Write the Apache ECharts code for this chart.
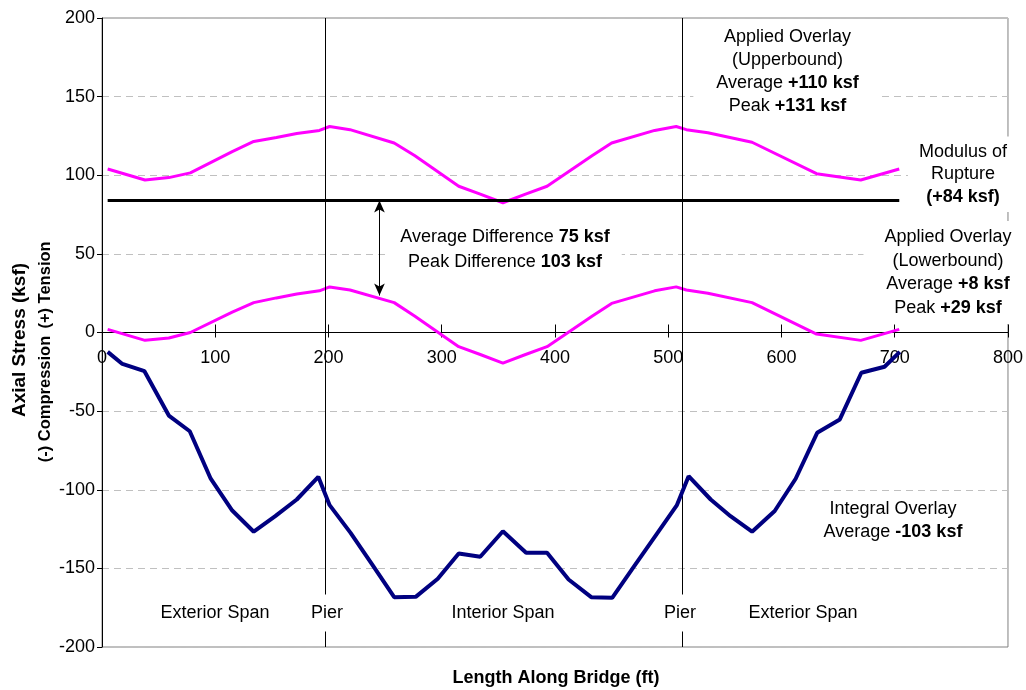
<!DOCTYPE html>
<html>
<head>
<meta charset="utf-8">
<script src="https://cdn.jsdelivr.net/npm/echarts@6/dist/echarts.min.js"></script>
<style>
  html, body { margin: 0; padding: 0; background: #ffffff; }
  #chart { width: 1026px; height: 690px; }
</style>
</head>
<body>
<div id="chart"></div>
<script>
// Stations (ft) along the bridge for the applied overlay envelope
const appliedFt = [5, 38, 59, 78, 115, 134, 154, 172, 192, 201, 219, 258, 276, 315, 334, 354,
                   374, 393, 433, 450, 488, 507, 516, 535, 574, 631, 670, 704];
// Applied overlay, upper bound (ksf)
const appliedUpperKsf = [104, 97, 98.5, 101.5, 115, 121.5, 124, 126.5, 128.5, 131, 129, 120.5, 112.5, 93, 88, 82.5,
                         88, 93, 112.5, 120.5, 128.5, 131, 129, 127, 121, 101, 97, 104];
// Applied overlay, lower bound (ksf)
const appliedLowerKsf = [2, -5, -3.5, 0, 13, 19, 22, 24.5, 26.5, 29, 27, 19, 10.5, -9, -14, -19.5,
                         -14, -9, 10.5, 18.5, 26.5, 29, 27, 25, 19, -1, -5, 2];

// Integral overlay stations (ft) and stress (ksf)
const integralFt = [5, 18, 37.5, 59, 77.5, 96, 115, 134, 153, 172, 191, 201, 219.5, 238.5, 258, 277, 296.5, 315,
                    334, 354, 374.5, 393, 412, 432, 450.5, 469.5, 489, 507.5, 518, 537.5, 555, 574, 594, 612.5,
                    631.5, 651.5, 670.5, 691, 704.5];
const integralKsf = [-12.3, -20, -24.6, -52.8, -62.8, -93, -113.2, -126.7, -116.8, -106.2, -91.8, -109.8, -127.4,
                     -147.5, -168.3, -168.1, -156.6, -140.5, -142.6, -126.4, -140.1, -140.1, -157.1, -168.3,
                     -168.7, -149, -129, -110, -91.4, -106.2, -116.8, -126.7, -113.5, -93, -63.8, -55.3, -25.6,
                     -21.8, -12.3];

// Modulus of rupture and the extent it is drawn over
const ruptureKsf = [84];
const ruptureExtentFt = [5, 704];

// Pier stations (ft)
const pierFt = [197, 512];

// Difference arrow: station and its two ends (ksf)
const diffArrowFt = [245];
const diffArrowKsf = [84, 23.5];

// Summary values quoted in the notes (ksf)
const upperSummary = { average: 110, peak: 131 };
const lowerSummary = { average: 8, peak: 29 };
const differenceSummary = { average: 75, peak: 103 };
const integralSummary = { average: -103 };

// Axis ranges and ticks
const xRange = [0, 800], xStep = 100;
const yRange = [-200, 200], yStep = 50;

const FONT = "'Liberation Sans', Arial, sans-serif";
const SIZE = 18;

// Plot box in pixels
const GRID = { left: 102, right: 18, top: 18, bottom: 43 };
const plotHeight = 690 - GRID.top - GRID.bottom;
// The length axis runs along the zero-stress line
const zeroFromBottom = plotHeight * (0 - yRange[0]) / (yRange[1] - yRange[0]);
const zeroFromTop = plotHeight - zeroFromBottom;

function pairs(xs, ys) { return xs.map((x, i) => [x, ys[i]]); }
function signed(v) { return (v > 0 ? '+' : '') + v; }

const chart = echarts.init(document.getElementById('chart'), null, { renderer: 'canvas' });

function note(x, y, lines, pad, lh) {
  const rich = {
    n: { fontFamily: FONT, fontSize: SIZE, lineHeight: lh || 23, fill: '#000' },
    b: { fontFamily: FONT, fontSize: SIZE, fontWeight: 'bold', lineHeight: lh || 23, fill: '#000' }
  };
  return {
    type: 'text', x: x, y: y, z: 100,
    style: {
      text: lines.join('\n'),
      rich: rich,
      align: 'center', verticalAlign: 'middle',
      backgroundColor: '#ffffff',
      padding: pad
    }
  };
}

function axisTitle(text, x, y, size, rotated) {
  return {
    type: 'text', x: x, y: y, rotation: rotated ? Math.PI / 2 : 0, z: 100,
    style: { text: text, fontFamily: FONT, fontSize: size, fontWeight: 'bold',
             fill: '#000', align: 'center', verticalAlign: 'middle' }
  };
}

const option = {
  animation: false,
  backgroundColor: '#ffffff',
  textStyle: { fontFamily: FONT },
  grid: {
    left: GRID.left, right: GRID.right, top: GRID.top, bottom: GRID.bottom,
    show: true, borderColor: '#808080', borderWidth: 1, backgroundColor: 'transparent'
  },
  xAxis: [{
    type: 'value', min: xRange[0], max: xRange[1], interval: xStep,
    position: 'bottom', offset: -zeroFromBottom,
    axisLine: { onZero: false, lineStyle: { color: '#000', width: 1 } },
    axisTick: { show: true, inside: false, length: 5, lineStyle: { color: '#000' } },
    axisLabel: { fontFamily: FONT, fontSize: SIZE, color: '#000', margin: 17 },
    splitLine: { show: false }
  }, {
    type: 'value', min: xRange[0], max: xRange[1], interval: xStep,
    position: 'top', offset: -zeroFromTop,
    axisLine: { onZero: false, lineStyle: { color: '#000', width: 1 } },
    axisTick: { show: true, inside: false, length: 8, lineStyle: { color: '#000' } },
    axisLabel: { show: false },
    splitLine: { show: false }
  }],
  yAxis: {
    type: 'value', min: yRange[0], max: yRange[1], interval: yStep,
    axisLine: { show: true, onZero: false, lineStyle: { color: '#000', width: 1 } },
    axisTick: { show: true, inside: false, length: 5, lineStyle: { color: '#000' } },
    axisLabel: { fontFamily: FONT, fontSize: SIZE, color: '#000', margin: 7 },
    splitLine: { show: true, lineStyle: { color: '#c0c0c0', type: [7, 5], width: 1 } }
  },
  series: [
    {
      name: 'Applied Overlay (Upperbound)', type: 'line',
      data: pairs(appliedFt, appliedUpperKsf),
      showSymbol: false, symbol: 'none',
      lineStyle: { color: '#ff00ff', width: 3 }, z: 3
    },
    {
      name: 'Applied Overlay (Lowerbound)', type: 'line',
      data: pairs(appliedFt, appliedLowerKsf),
      showSymbol: false, symbol: 'none',
      lineStyle: { color: '#ff00ff', width: 3 }, z: 3
    },
    {
      name: 'Modulus of Rupture', type: 'line',
      data: ruptureExtentFt.map(x => [x, ruptureKsf[0]]),
      showSymbol: false, symbol: 'none',
      lineStyle: { color: '#000000', width: 3 }, z: 4,
      markLine: {
        silent: true, symbol: ['arrow', 'arrow'], symbolSize: [8, 12],
        label: { show: false },
        lineStyle: { color: '#000', width: 1, type: 'solid' },
        data: [[{ coord: [diffArrowFt[0], diffArrowKsf[0]] }, { coord: [diffArrowFt[0], diffArrowKsf[1]] }]]
      }
    },
    {
      name: 'Integral Overlay', type: 'line',
      data: pairs(integralFt, integralKsf),
      showSymbol: false, symbol: 'none',
      lineStyle: { color: '#000080', width: 4 }, z: 5
    },
    {
      name: 'Piers', type: 'line', data: [],
      markLine: {
        silent: true, symbol: 'none',
        label: { show: false },
        lineStyle: { color: '#000', width: 1, type: 'solid' },
        data: pierFt.map(x => ({ xAxis: x }))
      },
      z: 6
    }
  ],
  graphic: [
    note(787.5, 71.7, [
      '{n|Applied Overlay}', '{n|(Upperbound)}',
      '{n|Average }{b|' + signed(upperSummary.average) + ' ksf}',
      '{n|Peak }{b|' + signed(upperSummary.peak) + ' ksf}'
    ], [4, 23]),
    note(963, 174.3, [
      '{n|Modulus of}', '{n|Rupture}', '{b|(' + signed(ruptureKsf[0]) + ' ksf)}'
    ], [4, 11], 22.5),
    note(948, 272.5, [
      '{n|Applied Overlay}', '{n|(Lowerbound)}',
      '{n|Average }{b|' + signed(lowerSummary.average) + ' ksf}',
      '{n|Peak }{b|' + signed(lowerSummary.peak) + ' ksf}'
    ], [4, 21], 23.7),
    note(505, 249.2, [
      '{n|Average Difference }{b|' + differenceSummary.average + ' ksf}',
      '{n|Peak Difference }{b|' + differenceSummary.peak + ' ksf}'
    ], [3, 12], 25),
    note(893, 520.8, [
      '{n|Integral Overlay}',
      '{n|Average }{b|' + integralSummary.average + ' ksf}'
    ], [2, 6], 23),
    note(215, 613, ['{n|Exterior Span}'], [6, 4]),
    note(327, 613, ['{n|Pier}'], [7, 4]),
    note(503, 613, ['{n|Interior Span}'], [6, 4]),
    note(680, 613, ['{n|Pier}'], [7, 4]),
    note(803, 613, ['{n|Exterior Span}'], [6, 4]),
    axisTitle('Length Along Bridge (ft)', 556, 678, SIZE, false),
    axisTitle('Axial Stress (ksf)', 20, 340, 19, true),
    axisTitle('(+) Tension', 45, 285, 16.5, true),
    axisTitle('(-) Compression', 45, 399, 16.5, true)
  ]
};

chart.setOption(option);
</script>
</body>
</html>
